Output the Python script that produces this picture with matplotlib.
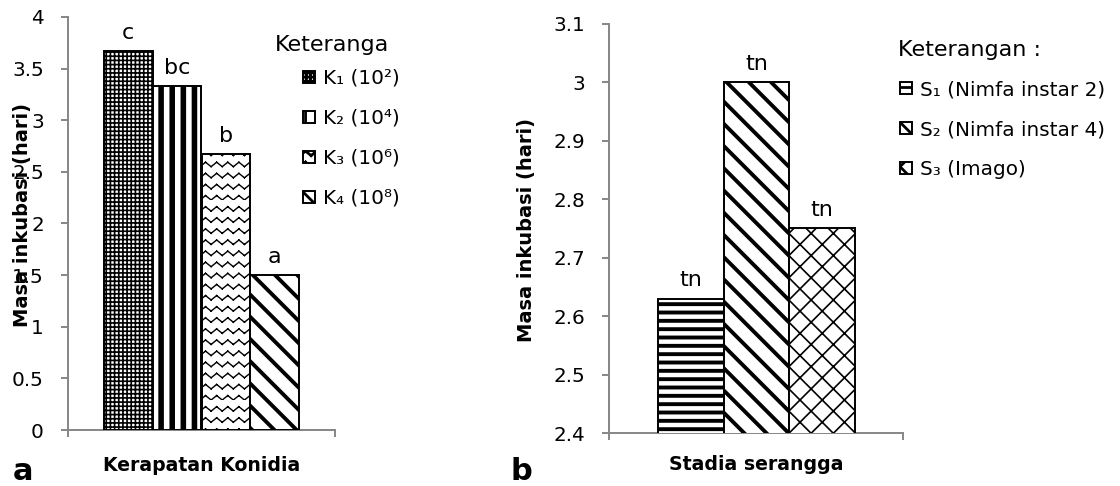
import warnings
import numpy as np
import matplotlib
matplotlib.use("Agg")
import matplotlib.pyplot as plt
import matplotlib.hatch as mhatch
from matplotlib.path import Path

warnings.filterwarnings('ignore')

# ---------------- data ----------------
kerapatan_labels = ['K\u2081 (10\u00b2)', 'K\u2082 (10\u2074)', 'K\u2083 (10\u2076)', 'K\u2084 (10\u2078)']
kerapatan_values = [3.67, 3.33, 2.67, 1.50]
kerapatan_letters = ['c', 'bc', 'b', 'a']
kerapatan_yticks = [0, 0.5, 1, 1.5, 2, 2.5, 3, 3.5, 4]

stadia_labels = ['S\u2081 (Nimfa instar 2)', 'S\u2082 (Nimfa instar 4)', 'S\u2083 (Imago)']
stadia_values = [2.63, 3.00, 2.75]
stadia_letters = ['tn', 'tn', 'tn']
stadia_yticks = [2.4, 2.5, 2.6, 2.7, 2.8, 2.9, 3.0, 3.1]


# ---------------- custom zigzag hatch ('v'), drawn as separate segments ----------------
class ZigzagHatch(mhatch.HatchPatternBase):
    def __init__(self, hatch, density):
        self.num_rows = int(hatch.count('v') * density)
        self.teeth = self.num_rows
        self.num_vertices = self.num_rows * self.teeth * 2 * 2 if self.num_rows else 0

    def set_vertices_and_codes(self, vertices, codes):
        n, m = self.num_rows, self.teeth
        amp = 0.4 / n
        k = 0
        for i in range(n):
            y0 = i / n
            for j in range(2 * m):
                xa, xb = j / (2 * m), (j + 1) / (2 * m)
                ya = y0 + (amp if j % 2 else 0.0)
                yb = y0 + (0.0 if j % 2 else amp)
                vertices[k] = (xa, ya)
                codes[k] = Path.MOVETO
                vertices[k + 1] = (xb, yb)
                codes[k + 1] = Path.LINETO
                k += 2


if ZigzagHatch not in mhatch._hatch_types:
    mhatch._hatch_types.append(ZigzagHatch)

# ---------------- styles ----------------
plt.rcParams['font.family'] = ['DejaVu Sans']
DPI = 200
GRAY = '#868686'
k_hatches = ['++++++++', '|||', 'vvv', '\\\\\\']
k_hlw = [0.6, 2.0, 0.5, 1.4]
s_hatches = ['----', '\\\\\\', 'xxx']
s_hlw = [1.4, 1.4, 0.6]

fig = plt.figure(figsize=(5.6, 2.43), dpi=DPI)
W, H = 1120, 486


def px_axes(x0, x1, ytop, ybot):
    return fig.add_axes([x0 / W, 1 - ybot / H, (x1 - x0) / W, (ybot - ytop) / H])


def style_axes(ax, xlim, yticks):
    for s in ['top', 'right']:
        ax.spines[s].set_visible(False)
    for s in ['left', 'bottom']:
        ax.spines[s].set_color(GRAY)
        ax.spines[s].set_linewidth(0.7)
    ax.set_xlim(*xlim)
    ax.set_xticks(list(xlim))
    ax.set_xticklabels(['', ''])
    ax.set_yticks(yticks)
    ax.set_yticklabels([f"{v:g}" for v in yticks])
    ax.set_ylim(yticks[0], yticks[-1])
    ax.tick_params(axis='both', direction='out', color=GRAY, width=0.7,
                   length=2.5, labelsize=7.2, pad=6.2, labelcolor='black')


def draw_bars(ax, values, hatches, hlws):
    x = np.arange(len(values))
    bars = ax.bar(x, values, width=1.0, color='white', edgecolor='black',
                  linewidth=0.7, zorder=3)
    for p, h, lw in zip(bars.patches, hatches, hlws):
        p.set_hatch(h)
        if hasattr(p, 'set_hatch_linewidth'):
            p.set_hatch_linewidth(lw)
    return x, bars


def annotate(ax, x, values, letters):
    for xi, v, t in zip(x, values, letters):
        ax.annotate(t, (xi, v), xytext=(0, 3), textcoords='offset points',
                    ha='center', va='bottom', fontsize=8)


# ---------------- left panel ----------------
ax1 = px_axes(68, 335, 17, 430)
x1, bars1 = draw_bars(ax1, kerapatan_values, k_hatches, k_hlw)
style_axes(ax1, (-1.235, 4.235), kerapatan_yticks)
annotate(ax1, x1, kerapatan_values, kerapatan_letters)
ax1.set_ylabel('Masa inkubasi (hari)', fontsize=7, fontweight='bold', va='center')
ax1.yaxis.set_label_coords(-0.172, 0.52)
ax1.set_xlabel('Kerapatan Konidia', fontsize=6.8, fontweight='bold', va='center')
ax1.xaxis.set_label_coords(0.5, -0.085)

# ---------------- right panel ----------------
ax2 = px_axes(609, 903, 24, 433)
x2, bars2 = draw_bars(ax2, stadia_values, s_hatches, s_hlw)
style_axes(ax2, (-1.246, 3.231), stadia_yticks)
annotate(ax2, x2, stadia_values, stadia_letters)
ax2.set_ylabel('Masa inkubasi (hari)', fontsize=7, fontweight='bold', va='center')
ax2.yaxis.set_label_coords(-0.279, 0.496)
ax2.set_xlabel('Stadia serangga', fontsize=6.8, fontweight='bold', va='center')
ax2.xaxis.set_label_coords(0.5, -0.078)

# ---------------- legends ----------------
fig.text(275 / W, 1 - 45 / H, 'Keteranga', fontsize=8, ha='left', va='center')
fig.text(898 / W, 1 - 50 / H, 'Keterangan :', fontsize=8, ha='left', va='center')

common = dict(frameon=False, loc='upper left', borderpad=0, borderaxespad=0,
              handlelength=0.6, handleheight=0.6, handletextpad=0.4,
              fontsize=7.2, bbox_transform=fig.transFigure)
fig.legend(bars1.patches, kerapatan_labels, bbox_to_anchor=(303 / W, 1 - 69 / H),
           labelspacing=1.05, **common)
fig.legend(bars2.patches, stadia_labels, bbox_to_anchor=(900 / W, 1 - 80 / H),
           labelspacing=1.05, **common)

# ---------------- panel letters ----------------
fig.text(23 / W, 1 - 471 / H, 'a', fontsize=11, fontweight='bold', ha='center', va='center')
fig.text(521 / W, 1 - 471 / H, 'b', fontsize=11, fontweight='bold', ha='center', va='center')

fig.savefig('out.png', dpi=DPI)
